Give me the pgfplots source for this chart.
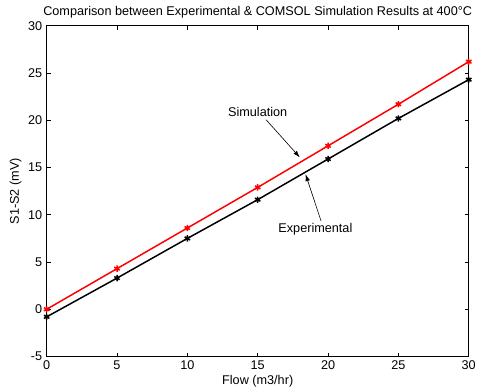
\documentclass[border=0pt]{standalone}
\usepackage{pgfplots}
\pgfplotsset{compat=1.18}
\usetikzlibrary{arrows.meta}
\usepackage{fontspec}
\setmainfont{Liberation Sans}
\begin{document}
\begin{tikzpicture}
\fontsize{12.8}{14}\selectfont
\begin{axis}[
  scale only axis,
  width=425bp, height=333bp,
  xmin=0, xmax=30, ymin=-5, ymax=30,
  xtick={0,5,...,30}, ytick={-5,0,...,30},
  tick align=inside,
  major tick length=4bp,
  tick style={black, line width=0.8pt},
  axis line style={black, line width=0.9pt},
  /pgf/number format/assume math mode=true,
  ticklabel style={font=\fontsize{12.8}{14}\selectfont},
  label style={font=\fontsize{12.8}{14}\selectfont},
  title style={font=\fontsize{12.8}{14}\selectfont, yshift=-3bp},
  title={Comparison between Experimental \& COMSOL Simulation Results at 400°C},
  xlabel={Flow (m3/hr)},
  ylabel={S1-S2 (mV)},
  xlabel style={yshift=3bp},
  ylabel style={yshift=-2bp},
  clip=false,
]
\addplot[red, line width=1.5pt, mark=asterisk, mark size=3.2pt, mark options={line width=1.5pt}]
  coordinates {(0,0) (5,4.3) (10,8.6) (15,12.9) (20,17.3) (25,21.7) (30,26.2)};
\addplot[black, line width=1.5pt, mark=asterisk, mark size=3.2pt, mark options={line width=1.5pt}]
  coordinates {(0,-0.8) (5,3.3) (10,7.5) (15,11.6) (20,15.9) (25,20.2) (30,24.3)};
\node[font=\fontsize{12.8}{14}\selectfont] at (axis cs:15.0,20.9) {Simulation};
\draw[-{Latex[length=7bp,width=4.5bp]}, line width=0.6pt] (axis cs:15.6,20.05) -- (axis cs:18.0,16.07);
\node[font=\fontsize{12.8}{14}\selectfont] at (axis cs:19.1,8.5) {Experimental};
\draw[-{Latex[length=7bp,width=4.5bp]}, line width=0.6pt] (axis cs:19.5,9.36) -- (axis cs:18.4,14.3);
\coordinate (sw) at (rel axis cs:0,0);
\end{axis}
\path (sw) ++(-47bp,-35bp) rectangle ++(480bp,394bp);
\end{tikzpicture}
\end{document}
